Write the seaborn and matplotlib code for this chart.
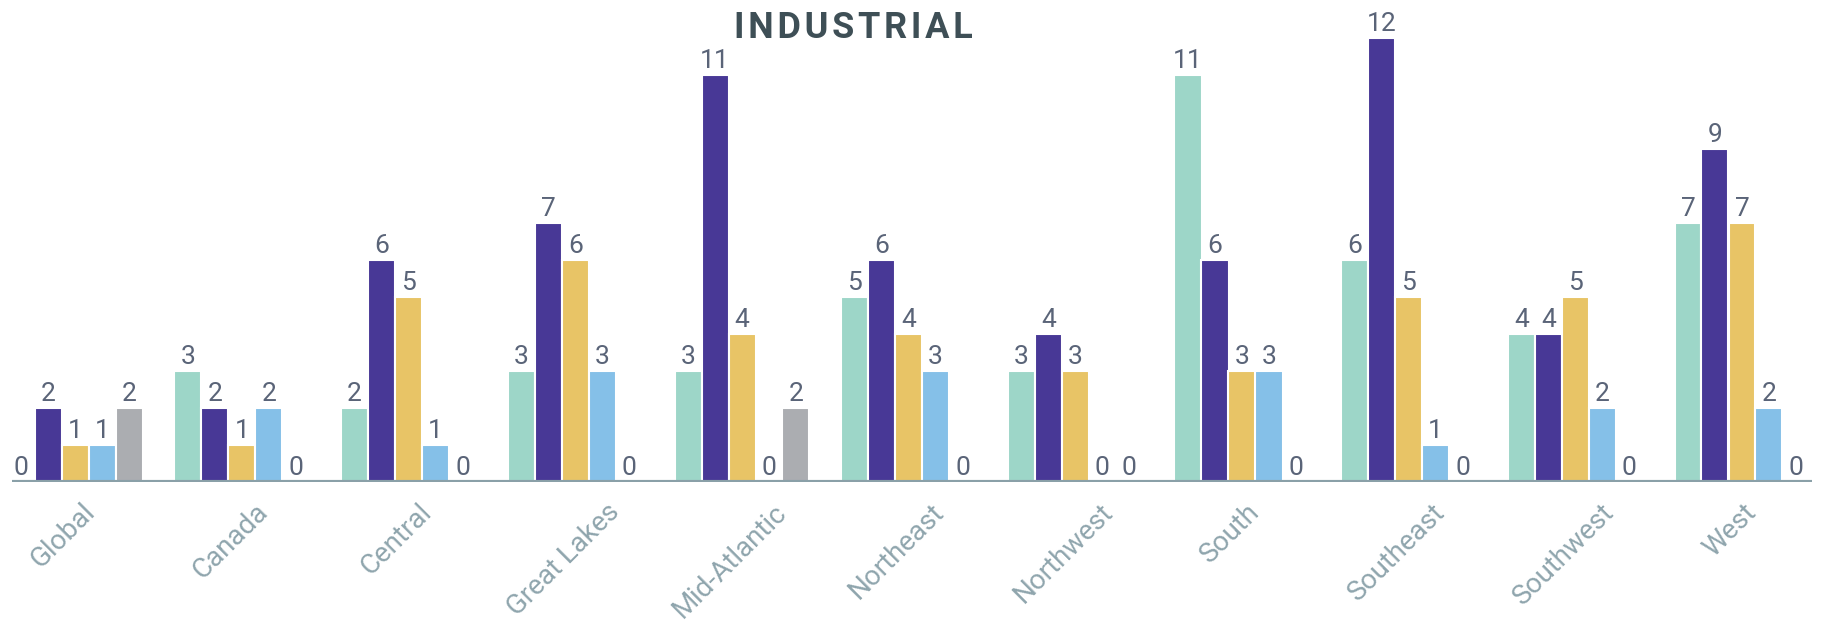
import matplotlib
matplotlib.use("Agg")
import matplotlib.pyplot as plt
from matplotlib.transforms import ScaledTranslation
import seaborn as sns
import pandas as pd

# Regions along the x axis
regions = ["Global", "Canada", "Central", "Great Lakes", "Mid-Atlantic",
           "Northeast", "Northwest", "South", "Southeast", "Southwest", "West"]

# One list of counts per series, in region order
series_a = [0, 3, 2, 3, 3, 5, 3, 11, 6, 4, 7]
series_b = [2, 2, 6, 7, 11, 6, 4, 6, 12, 4, 9]
series_c = [1, 1, 5, 6, 4, 4, 3, 3, 5, 5, 7]
series_d = [1, 2, 1, 3, 0, 3, 0, 3, 1, 2, 2]
series_e = [2, 0, 0, 0, 2, 0, 0, 0, 0, 0, 0]

series_names = ["A", "B", "C", "D", "E"]
series_values = [series_a, series_b, series_c, series_d, series_e]
colors = ["#9dd6c8", "#483896", "#e8c466", "#85c0e8", "#abadb1"]

rows = []
for name, vals in zip(series_names, series_values):
    for reg, v in zip(regions, vals):
        rows.append({"region": reg, "series": name, "count": v})
df = pd.DataFrame(rows)

sns.set_theme(style="white")
plt.rcParams["font.family"] = ["Roboto", "DejaVu Sans"]

fig = plt.figure(figsize=(18.22, 6.28), dpi=100)
ax = fig.add_axes([12 / 1822, 146 / 628, 1800 / 1822, 474 / 628])

sns.barplot(data=df, x="region", y="count", hue="series", order=regions,
            hue_order=series_names, palette=colors, width=0.81,
            edgecolor="white", linewidth=1.5, saturation=1, legend=False,
            errorbar=None, ax=ax)

for cont in ax.containers:
    ax.bar_label(cont, fmt="%d", padding=1.5, fontsize=19,
                 fontweight="normal", color="#5a6478")

ax.set_xlim(-0.38, 10.42)
ax.set_ylim(0, 12.8)
ax.axhline(0, color="#8aa0a8", linewidth=3, zorder=5)

for s in ax.spines.values():
    s.set_visible(False)
ax.set_yticks([])
ax.set_xlabel("")
ax.set_ylabel("")
ax.tick_params(axis="x", length=0, pad=12)
for lab in ax.get_xticklabels():
    lab.set_rotation(45)
    lab.set_ha("center")
    lab.set_va("top")
    lab.set_fontsize(20)
    lab.set_fontweight("normal")
    lab.set_color("#8fa5ad")
    lab.set_transform(lab.get_transform() +
                      ScaledTranslation(-0.12, 0, fig.dpi_scale_trans))

fig.text(853 / 1822, 1 - 28 / 628, "\u200a".join("INDUSTRIAL"),
         ha="center", va="center", fontsize=26, fontweight="bold",
         color="#3e4f56")

fig.savefig("out.png", dpi=100, facecolor="white")
